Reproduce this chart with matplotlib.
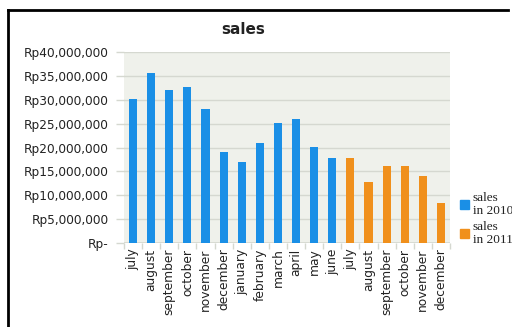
import matplotlib
matplotlib.use("Agg")
import matplotlib.pyplot as plt
from matplotlib.lines import Line2D
import matplotlib.patches as mpatches
import numpy as np

# ── Data ──────────────────────────────────────────────────────────────────────
months = ["july", "august", "september", "october", "november", "december",
          "january", "february", "march", "april", "may", "june",
          "july", "august", "september", "october", "november", "december"]
sales_2010 = [30.2, 35.7, 32.0, 32.6, 28.0, 19.0,
              17.0, 21.0, 25.2, 25.9, 20.2, 17.7]  # millions Rp
sales_2011 = [17.7, 12.7, 16.2, 16.2, 14.1, 8.3]
ytick_vals = [0, 5, 10, 15, 20, 25, 30, 35, 40]
ytick_labels = ["Rp-", "Rp5,000,000", "Rp10,000,000", "Rp15,000,000",
                "Rp20,000,000", "Rp25,000,000", "Rp30,000,000",
                "Rp35,000,000", "Rp40,000,000"]

BLUE = "#1a8fe6"
ORANGE = "#f0901c"
PLOT_BG = "#eff1eb"
GRID = "#d5d8d0"
TEXT = "#222222"

fig = plt.figure(figsize=(5.12, 3.27), dpi=100, facecolor="white")
ax = fig.add_axes([124 / 512, 1 - 243 / 327, 326 / 512, 191 / 327], facecolor=PLOT_BG)

x_2010 = np.arange(len(sales_2010))
x_2011 = np.arange(len(sales_2010), len(months))
ax.bar(x_2010, sales_2010, width=0.45, color=BLUE, zorder=3)
ax.bar(x_2011, sales_2011, width=0.45, color=ORANGE, zorder=3)

ax.set_xlim(-0.5, len(months) - 0.5)
ax.set_ylim(0, 40)
ax.set_yticks(ytick_vals)
ax.set_yticklabels(ytick_labels, fontsize=8.7, color=TEXT)
ax.set_xticks(np.arange(len(months)))
ax.set_xticklabels(months, rotation=90, fontsize=8.8, color=TEXT)
ax.set_xticks(np.arange(len(months) + 1) - 0.5, minor=True)
ax.tick_params(axis="x", which="major", length=0, pad=4)
ax.tick_params(axis="x", which="minor", length=4, color=GRID, width=1)
ax.tick_params(axis="y", length=6, color=GRID, width=1, pad=5)

ax.grid(True, axis="y", color=GRID, linewidth=1)
ax.set_axisbelow(True)
for name, spine in ax.spines.items():
    spine.set_visible(False)
ax.axhline(0, color=GRID, linewidth=1.2, zorder=2)

# ── Title ─────────────────────────────────────────────────────────────────────
fig.text(243 / 512, 1 - 29 / 327, "sales", fontsize=11, fontweight="bold",
         color=TEXT, ha="center", va="center")

# ── Legend ───────────────────────────────────────────────────────────────────
handles = [mpatches.Patch(color=BLUE, label="sales\nin 2010"),
           mpatches.Patch(color=ORANGE, label="sales\nin 2011")]
fig.legend(handles=handles, loc="upper left",
           bbox_to_anchor=(453 / 512, 1 - 185 / 327),
           frameon=False, handlelength=0.7, handleheight=0.7,
           handletextpad=0.3, labelspacing=0.25, borderpad=0,
           prop={"family": "Liberation Serif", "size": 9.5},
           labelcolor=TEXT)

# ── Black frame lines (top and left) ─────────────────────────────────────────
fig.add_artist(Line2D([8 / 512, 508 / 512], [1 - 10 / 327, 1 - 10 / 327],
                      color="black", linewidth=2, transform=fig.transFigure))
fig.add_artist(Line2D([8 / 512, 8 / 512], [1 - 10 / 327, 0],
                      color="black", linewidth=2, transform=fig.transFigure))

fig.savefig("out.png", dpi=100, facecolor="white")
